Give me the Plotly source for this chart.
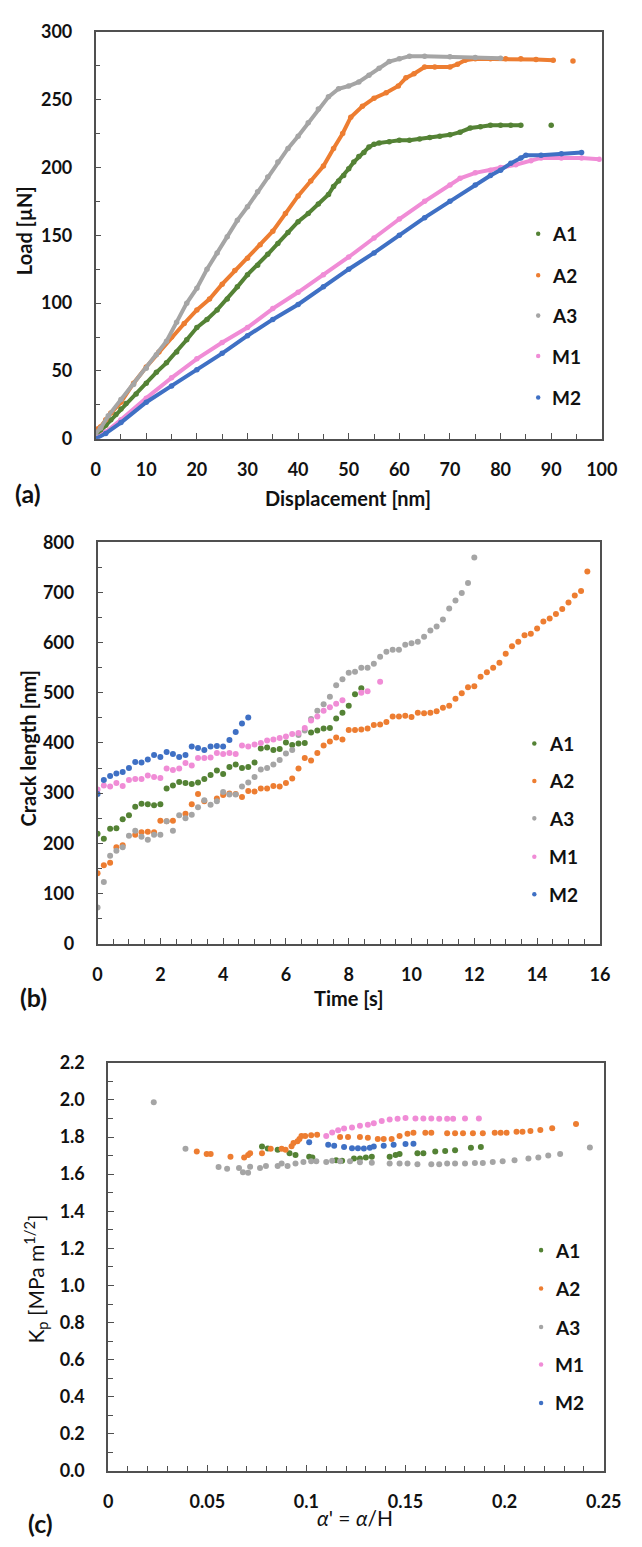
import plotly.graph_objects as go

W, H = 642, 1547

# ---------------- (a) load vs displacement ----------------
a_A1_x = [0, 1, 2, 3, 4, 5, 6, 8, 10, 12, 14, 16, 18, 20, 22, 24, 26, 28, 30, 32, 34, 36, 38, 40, 42, 44, 46, 47,
          48, 49, 50, 51, 52, 53, 54, 55, 56, 58, 60, 62, 64, 66, 68, 70, 72, 74, 76, 78, 80, 82, 84, None, 90]
a_A1_y = [2, 6, 10, 14, 18, 22, 26, 33, 41, 49, 56, 64, 73, 82, 88, 95, 103, 112, 121, 128, 136, 144, 152, 160, 166,
          173, 180, 186, 190, 194, 199, 204, 208, 211, 215, 217, 218, 219, 220, 220, 221, 222, 223, 224, 226, 229,
          230, 231, 231, 231, 231, None, 231]

a_A2_x = [0, 1, 2, 3, 5, 7.5, 10, 12.5, 15, 17.5, 20, 22.5, 25, 27.5, 30, 32.5, 35, 37.5, 40, 42.5, 45, 47, 48.8,
          50.4, 52.7, 55, 57.4, 59.8, 61.3, 62.9, 65, 67, 70, 71.5, 73, 75, 78, 81, 84, 87, 90.4, None, 94.3]
a_A2_y = [7, 9, 14, 19, 27, 41, 53, 64, 75, 85, 95, 103, 114, 124, 133, 143, 153, 166, 179, 190, 201, 214, 225,
          237, 245, 251, 255, 260, 266, 269, 274, 274, 274, 276, 279, 280, 280, 280, 280, 279.5, 279, None, 278.5]

a_A3_x = [0, 1, 2.5, 5, 7.5, 10, 12, 14, 16, 18, 20, 22, 24, 26, 28, 30, 32, 34, 36, 38, 40, 42, 44, 46, 48, 50,
          52, 54, 56, 58, 60, 62, 65, 70, 75, 80]
a_A3_y = [4, 8, 17, 29, 40, 52, 62, 72, 86, 100, 111, 125, 137, 149, 161, 171, 182, 193, 204, 214, 223, 233, 243,
          252, 258, 260, 263, 268, 273, 278, 280, 282, 282, 281.5, 281, 280.5]

a_M1_x = [0, 2, 5, 10, 15, 20, 25, 30, 35, 40, 45, 50, 55, 60, 65, 70, 72, 75, 78, 80, 83, 86, 88, 92, 96, 99.5]
a_M1_y = [0, 5, 14, 30, 45, 59, 71, 82, 96, 108, 121, 134, 148, 162, 175, 187, 192, 196, 198, 200, 202, 205, 207,
          207, 207, 206]

a_M2_x = [0, 2, 5, 10, 15, 20, 25, 30, 35, 40, 45, 50, 55, 60, 65, 70, 75, 78, 80, 82, 84, 85, 88, 92, 96]
a_M2_y = [0, 4, 12, 27, 39, 51, 63, 76, 88, 99, 112, 125, 137, 150, 163, 175, 187, 194, 198, 203, 207, 209, 209,
          210, 211]

# ---------------- (b) crack length vs time ----------------
b_A1_t = [0, 0.2, 0.4, 0.6, 0.8, 1.0, 1.2, 1.4, 1.6, 1.8, 2.0, 2.2, 2.4, 2.6, 2.8, 3.0, 3.2, 3.4, 3.6, 3.8, 4.0,
          4.2, 4.4, 4.6, 4.8, 5.0, 5.2, 5.4, 5.6, 5.8, 6.0, 6.2, 6.4, 6.6, 6.8, 7.0, 7.2, 7.4, 7.6, 7.8, 8.0, 8.2, 8.4]
b_A1_c = [219, 209, 229, 230, 248, 256, 273, 279, 278, 276, 278, 309, 315, 322, 320, 318, 321, 328, 336, 345, 338,
          352, 357, 350, 352, 361, 389, 391, 386, 388, 401, 396, 399, 400, 421, 425, 429, 430, 449, 460, 474, 497, 509]

b_A2_t = [0, 0.2, 0.4, 0.6, 0.8, 1.2, 1.4, 1.6, 1.8, 2.0, 2.2, 2.4, 2.8, 3.0, 3.2, 3.4, 3.8, 4.0, 4.2, 4.4, 4.6,
          4.8, 5.0, 5.2, 5.4, 5.6, 5.8, 6.0, 6.2, 6.4, 6.6, 6.8, 7.0, 7.2, 7.4, 7.6, 7.8, 8.0, 8.2, 8.4, 8.6, 8.8,
          9.0, 9.2, 9.4, 9.6, 9.8, 10.0, 10.2, 10.4, 10.6, 10.8, 11.0, 11.2, 11.4, 11.6, 11.8, 12.0, 12.2, 12.4,
          12.6, 12.8, 13.0, 13.2, 13.4, 13.6, 13.8, 14.0, 14.2, 14.4, 14.6, 14.8, 15.0, 15.2, 15.4, 15.6]
b_A2_c = [140, 156, 161, 192, 196, 217, 222, 223, 222, 245, 244, 245, 259, 278, 298, 284, 289, 296, 299, 298, 292,
          304, 303, 309, 309, 314, 313, 320, 329, 349, 370, 365, 380, 395, 403, 411, 407, 426, 426, 427, 429, 436,
          437, 442, 453, 453, 454, 452, 460, 459, 460, 463, 470, 474, 488, 499, 511, 513, 532, 541, 550, 560, 578,
          593, 602, 615, 618, 628, 642, 648, 657, 667, 680, 694, 703, 742]

b_A3_t = [0, 0.2, 0.4, 0.6, 0.8, 1.0, 1.2, 1.4, 1.6, 1.8, 2.0, 2.2, 2.4, 2.6, 2.8, 3.0, 3.2, 3.4, 3.6, 3.8, 4.0,
          4.2, 4.4, 4.6, 4.8, 5.0, 5.2, 5.4, 5.6, 5.8, 6.0, 6.2, 6.4, 6.6, 6.8, 7.0, 7.2, 7.4, 7.6, 7.8, 8.0, 8.2,
          8.4, 8.6, 8.8, 9.0, 9.2, 9.4, 9.6, 9.8, 10.0, 10.2, 10.4, 10.6, 10.8, 11.0, 11.2, 11.4, 11.6, 11.8, 12.0]
b_A3_c = [72, 123, 175, 185, 192, 215, 225, 213, 207, 217, 217, 244, 225, 256, 250, 257, 272, 286, 277, 284, 302,
          297, 297, 313, 321, 332, 347, 350, 357, 366, 379, 386, 416, 425, 448, 464, 477, 492, 515, 527, 540, 542,
          550, 550, 558, 572, 582, 586, 586, 596, 599, 602, 612, 624, 632, 646, 668, 684, 699, 719, 770]

b_M1_t = [0, 0.2, 0.4, 0.6, 0.8, 1.0, 1.2, 1.4, 1.6, 1.8, 2.0, 2.2, 2.4, 2.6, 2.8, 3.0, 3.2, 3.4, 3.6, 3.8, 4.0,
          4.2, 4.4, 4.6, 4.8, 5.0, 5.2, 5.4, 5.6, 5.8, 6.0, 6.2, 6.4, 6.6, 6.8, 7.0, 7.2, 7.4, 7.6, 7.8, 8.4, 8.6, 9.0]
b_M1_c = [307, 315, 313, 320, 314, 326, 328, 328, 335, 332, 330, 349, 346, 349, 360, 355, 370, 370, 371, 380, 378,
          380, 378, 395, 393, 397, 400, 405, 407, 410, 413, 418, 420, 430, 445, 453, 464, 471, 478, 485, 500, 503, 522]

b_M2_t = [0, 0.2, 0.4, 0.6, 0.8, 1.0, 1.2, 1.4, 1.6, 1.8, 2.0, 2.2, 2.4, 2.6, 2.8, 3.0, 3.2, 3.4, 3.6, 3.8, 4.0,
          4.2, 4.4, 4.6, 4.8]
b_M2_c = [298, 326, 334, 339, 342, 350, 362, 361, 367, 376, 372, 382, 378, 372, 376, 393, 390, 386, 393, 394, 393,
          406, 422, 439, 451]

# ---------------- (c) K_p vs normalised crack length ----------------
c_A1_x = [0.0776, 0.0805, 0.0855, 0.0915, 0.0945, 0.1014, 0.103, 0.115, 0.118, 0.124, 0.127, 0.130, 0.133, 0.142,
          0.145, 0.147, 0.156, 0.159, 0.165, 0.170, 0.175, 0.183, 0.188]
c_A1_k = [1.749, 1.738, 1.731, 1.712, 1.703, 1.694, 1.690, 1.675, 1.672, 1.685, 1.685, 1.690, 1.694, 1.694, 1.703,
          1.709, 1.712, 1.712, 1.722, 1.725, 1.729, 1.742, 1.746]

c_A2_x = [0.0447, 0.0497, 0.0517, 0.0617, 0.0686, 0.0706, 0.0716, 0.0776, 0.082, 0.0875, 0.0895, 0.0925, 0.0935,
          0.0955, 0.0965, 0.0975, 0.0994, 0.1024, 0.1054, 0.117, 0.121, 0.127, 0.131, 0.136, 0.139, 0.143, 0.147,
          0.151, 0.154, 0.160, 0.163, 0.171, 0.175, 0.179, 0.184, 0.189, 0.195, 0.198, 0.201, 0.206, 0.209, 0.213,
          0.218, 0.224, 0.236]
c_A2_k = [1.722, 1.709, 1.709, 1.694, 1.690, 1.703, 1.712, 1.712, 1.737, 1.737, 1.731, 1.750, 1.768, 1.777, 1.790,
          1.805, 1.805, 1.809, 1.813, 1.800, 1.800, 1.800, 1.796, 1.790, 1.790, 1.790, 1.805, 1.818, 1.823, 1.823,
          1.823, 1.820, 1.820, 1.820, 1.820, 1.820, 1.823, 1.823, 1.823, 1.829, 1.829, 1.833, 1.838, 1.848, 1.870]

c_A3_x = [0.023, 0.039, 0.0557, 0.060, 0.066, 0.068, 0.0706, 0.0716, 0.0766, 0.0796, 0.0855, 0.0875, 0.0905,
          0.0945, 0.0985, 0.1024, 0.105, 0.110, 0.113, 0.117, 0.122, 0.127, 0.133, 0.142, 0.147, 0.151, 0.156,
          0.163, 0.167, 0.171, 0.175, 0.180, 0.185, 0.189, 0.194, 0.199, 0.205, 0.212, 0.217, 0.222, 0.228, 0.243]
c_A3_k = [1.987, 1.737, 1.638, 1.629, 1.633, 1.610, 1.607, 1.640, 1.633, 1.644, 1.644, 1.657, 1.644, 1.657, 1.666,
          1.670, 1.670, 1.666, 1.672, 1.670, 1.670, 1.664, 1.662, 1.657, 1.657, 1.657, 1.653, 1.653, 1.653, 1.657,
          1.657, 1.657, 1.660, 1.660, 1.666, 1.670, 1.675, 1.685, 1.690, 1.700, 1.709, 1.744]

c_M1_x = [0.110, 0.113, 0.116, 0.119, 0.123, 0.127, 0.131, 0.134, 0.138, 0.142, 0.146, 0.150, 0.155, 0.159, 0.163,
          0.167, 0.171, 0.174, 0.180, 0.187]
c_M1_k = [1.805, 1.824, 1.837, 1.846, 1.851, 1.861, 1.866, 1.874, 1.887, 1.894, 1.898, 1.903, 1.900, 1.900, 1.900,
          1.898, 1.898, 1.898, 1.900, 1.900]

c_M2_x = [0.1014, 0.111, 0.114, 0.119, 0.123, 0.126, 0.129, 0.132, 0.134, 0.139, 0.144, 0.150, 0.154]
c_M2_k = [1.772, 1.759, 1.753, 1.746, 1.740, 1.740, 1.738, 1.742, 1.749, 1.753, 1.759, 1.763, 1.764]

names = ["A1", "A2", "A3", "M1", "M2"]
colors = ["#548235", "#ED7D31", "#A5A5A5", "#F08CD6", "#3F70C4"]

FONT = "Lato"
AXIS_COLOR = "#505050"


def fx(px):
    return px / W


def fy(py):
    return 1 - py / H


fig = go.Figure()

panel_a = [(a_A1_x, a_A1_y), (a_A2_x, a_A2_y), (a_A3_x, a_A3_y), (a_M1_x, a_M1_y), (a_M2_x, a_M2_y)]
panel_b = [(b_A1_t, b_A1_c), (b_A2_t, b_A2_c), (b_A3_t, b_A3_c), (b_M1_t, b_M1_c), (b_M2_t, b_M2_c)]
panel_c = [(c_A1_x, c_A1_k), (c_A2_x, c_A2_k), (c_A3_x, c_A3_k), (c_M1_x, c_M1_k), (c_M2_x, c_M2_k)]

for (xs, ys), name, col in zip(panel_a, names, colors):
    fig.add_trace(go.Scatter(x=xs, y=ys, mode="lines+markers", name=name, showlegend=False,
                             line=dict(color=col, width=4), marker=dict(color=col, size=5.5),
                             connectgaps=False, xaxis="x", yaxis="y"))
for (xs, ys), name, col in zip(panel_b, names, colors):
    fig.add_trace(go.Scatter(x=xs, y=ys, mode="markers", name=name, showlegend=False,
                             marker=dict(color=col, size=6), xaxis="x2", yaxis="y2"))
for (xs, ys), name, col in zip(panel_c, names, colors):
    fig.add_trace(go.Scatter(x=xs, y=ys, mode="markers", name=name, showlegend=False,
                             marker=dict(color=col, size=6), xaxis="x3", yaxis="y3"))

tickfont = dict(family=FONT, size=18, color="#111111", weight="bold")


def axis(dom, rng, dtick, minor, fmt=None, standoff=16):
    d = dict(domain=dom, range=rng, dtick=dtick, tick0=0, showline=True, mirror=True,
             linecolor=AXIS_COLOR, linewidth=1.5, ticks="inside", ticklen=6, tickwidth=1.3,
             tickcolor=AXIS_COLOR, showgrid=False, zeroline=False, tickfont=tickfont,
             ticklabelstandoff=standoff,
             minor=dict(ticks="inside", dtick=minor, ticklen=5, tickwidth=1.3, tickcolor=AXIS_COLOR,
                        showgrid=False))
    if fmt:
        d["tickformat"] = fmt
    return d


panels = {
    "a": dict(l=94, r=619, t=20, b=433),
    "b": dict(l=96, r=617, t=538, b=945),
    "c": dict(l=107, r=621, t=1066, b=1480),
}


def xdom(p):
    return [fx(p["l"]), fx(p["r"])]


def ydom(p):
    return [fy(p["b"]), fy(p["t"])]


fig.update_layout(
    width=W, height=H, autosize=False,
    margin=dict(l=0, r=0, t=0, b=0),
    paper_bgcolor="white", plot_bgcolor="white",
    showlegend=False,
    xaxis=axis(xdom(panels["a"]), [0, 100], 10, 5, standoff=14),
    yaxis=axis(ydom(panels["a"]), [0, 300], 50, 25, standoff=18),
    xaxis2=axis(xdom(panels["b"]), [0, 16], 2, 0.5, standoff=14),
    yaxis2=axis(ydom(panels["b"]), [0, 800], 100, 50, standoff=18),
    xaxis3=axis(xdom(panels["c"]), [0, 0.25], 0.05, 0.01, standoff=14),
    yaxis3=axis(ydom(panels["c"]), [0, 2.2], 0.2, 0.1, fmt=".1f", standoff=18),
)
fig.layout.xaxis2.anchor = "y2"
fig.layout.yaxis2.anchor = "x2"
fig.layout.xaxis3.anchor = "y3"
fig.layout.yaxis3.anchor = "x3"

ann = []
shapes = []


def text(x, y, s, size=18, bold=True, angle=0, xanchor="center"):
    ann.append(dict(x=fx(x), y=fy(y), xref="paper", yref="paper", text=s, showarrow=False,
                    xanchor=xanchor, yanchor="middle", textangle=angle,
                    font=dict(family=FONT, size=size, color="#111111",
                              weight="bold" if bold else "normal")))


# axis titles
text(356, 493, "Displacement [nm]", size=20)
text(20, 222, "Load [µN]", size=20, angle=-90)
text(356, 1000, "Time [s]", size=20)
text(24, 747, "Crack length [nm]", size=20, angle=-90)
text(363, 1527, "<i>α</i>' = <i>α</i>/H", size=21, bold=False)
text(32, 1285, "K<sub>p</sub> [MPa m<sup>1/2</sup>]", size=21, bold=False, angle=-90)

# panel letters
text(8, 488, "(a)", size=25, xanchor="left")
text(14, 999, "(b)", size=25, xanchor="left")
text(22, 1533, "(c)", size=25, xanchor="left")

# legends: a small dot and a bold label for every series
legends = [
    (553, 565, [225, 267, 308, 349, 391]),
    (549, 562, [742, 780, 818, 857, 895]),
    (556, 568, [1256, 1295, 1334, 1372, 1411]),
]
for dot_x, text_x, ys in legends:
    for name, col, y in zip(names, colors, ys):
        r = 2.3
        shapes.append(dict(type="circle", xref="paper", yref="paper",
                           x0=fx(dot_x - r), x1=fx(dot_x + r), y0=fy(y + r), y1=fy(y - r),
                           fillcolor=col, line=dict(width=0)))
        text(text_x, y, name, size=19, xanchor="left")

fig.update_layout(annotations=ann, shapes=shapes)

fig.write_html("out.html")
